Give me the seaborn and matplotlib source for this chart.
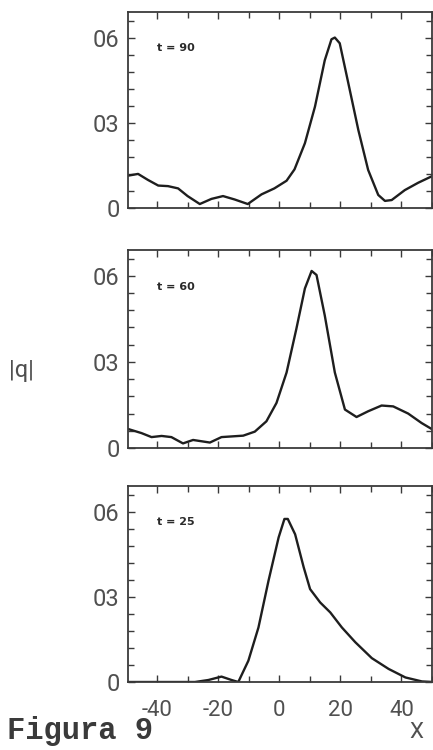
import matplotlib
matplotlib.use("Agg")
import matplotlib.pyplot as plt
import seaborn as sns
import pandas as pd
import numpy as np
from matplotlib.ticker import MultipleLocator, FixedLocator

sns.set_theme(style="white")
plt.rcParams['font.family'] = ['DejaVu Sans']

# ---- data ----
x_t90 = [-49.4, -46.2, -43.0, -39.6, -36.4, -33.1, -30.0, -26.0, -22.2, -18.4, -14.6, -10.3,
         -5.8, -1.6, 2.4, 5.0, 8.4, 11.7, 14.9, 17.1, 18.2, 19.8, 22.6, 25.9, 29.1, 32.4,
         34.6, 36.8, 41.1, 45.5, 50.4]
q_t90 = [0.114, 0.120, 0.099, 0.079, 0.077, 0.069, 0.042, 0.014, 0.032, 0.042, 0.030, 0.014,
         0.048, 0.069, 0.096, 0.136, 0.228, 0.357, 0.520, 0.594, 0.600, 0.580, 0.440, 0.274,
         0.134, 0.046, 0.025, 0.028, 0.063, 0.089, 0.114]

x_t60 = [-49.4, -45.1, -41.8, -38.5, -35.3, -31.5, -28.2, -22.7, -18.9, -11.8, -8.0, -4.2,
         -0.9, 2.4, 5.6, 8.4, 10.6, 12.2, 14.9, 18.2, 21.5, 25.3, 29.1, 33.5, 37.3, 42.2,
         46.6, 50.4]
q_t60 = [0.066, 0.052, 0.038, 0.042, 0.038, 0.016, 0.028, 0.019, 0.038, 0.043, 0.057, 0.093,
         0.157, 0.263, 0.415, 0.556, 0.617, 0.603, 0.462, 0.263, 0.134, 0.108, 0.128, 0.148,
         0.145, 0.120, 0.087, 0.063]

x_t25 = [-49.4, -27.6, -23.2, -18.9, -15.6, -13.4, -10.1, -6.8, -3.5, -0.2, 1.7, 2.8, 5.2,
         8.0, 10.1, 13.4, 16.7, 20.5, 24.9, 30.3, 35.8, 41.3, 46.7, 50.4]
q_t25 = [0.0, 0.0, 0.007, 0.019, 0.007, 0.0, 0.075, 0.192, 0.357, 0.509, 0.574, 0.574, 0.520,
         0.404, 0.327, 0.280, 0.245, 0.192, 0.140, 0.084, 0.046, 0.016, 0.002, 0.0]

panel_labels = ["t = 90", "t = 60", "t = 25"]
ytick_vals = [0.0, 0.3, 0.6]
ytick_text = ["0", "03", "06"]
xtick_vals = [-40, -20, 0, 20, 40]
xtick_text = ["-40", "-20", "0", "20", "40"]

series = [(x_t90, q_t90), (x_t60, q_t60), (x_t25, q_t25)]

W, H = 433, 750
fig = plt.figure(figsize=(W / 100, H / 100), dpi=100)
fig.patch.set_facecolor("white")

panels_px = [(12, 208), (250, 448), (486, 682)]
left_px, right_px = 128, 432

frame_col = "#3a3a3a"
label_col = "#505050"
tick_font = dict(family=["Roboto", "DejaVu Sans"], weight="normal")

for i, ((top, bot), (xs, qs), lab) in enumerate(zip(panels_px, series, panel_labels)):
    ax = fig.add_axes([left_px / W, 1 - bot / H, (right_px - left_px) / W, (bot - top) / H])
    df = pd.DataFrame({"x": xs, "q": qs})
    sns.lineplot(data=df, x="x", y="q", ax=ax, color="#1e1e1e", linewidth=1.7)
    ax.set_xlim(-49.5, 50)
    ax.set_ylim(0, 0.69)
    ax.set_xlabel("")
    ax.set_ylabel("")
    for s in ax.spines.values():
        s.set_color(frame_col)
        s.set_linewidth(1.3)
    ax.xaxis.set_major_locator(FixedLocator(xtick_vals))
    ax.xaxis.set_minor_locator(MultipleLocator(10))
    ax.yaxis.set_major_locator(FixedLocator(ytick_vals))
    ax.yaxis.set_minor_locator(MultipleLocator(0.06))
    ax.tick_params(which="both", direction="in", top=True, right=True, bottom=True, left=True,
                   color=frame_col, width=1.0)
    ax.tick_params(which="major", length=5)
    ax.tick_params(which="minor", length=4)
    ax.set_yticklabels(ytick_text, fontsize=17, color=label_col, **tick_font)
    ax.tick_params(axis="y", pad=6)
    if i == 2:
        ax.set_xticklabels(xtick_text, fontsize=16, color=label_col, **tick_font)
        ax.tick_params(axis="x", pad=13)
    else:
        ax.set_xticklabels([])
    ax.text(0.095, 0.815, lab, transform=ax.transAxes, fontsize=8, fontweight="bold",
            color="#2a2a2a", ha="left", va="center")

fig.text(21 / W, 1 - 370 / H, "|q|", fontsize=17, color=label_col, ha="center", va="center",
         **tick_font)
fig.text(7 / W, 1 - 739 / H, "Figura 9", fontsize=22, fontweight="bold",
         family=["Liberation Mono", "DejaVu Sans Mono"], color="#3a3a3a", ha="left",
         va="baseline")
fig.text(416 / W, 1 - 733 / H, "X", fontsize=16, color=label_col, ha="center", va="center",
         **tick_font)

fig.savefig("out.png", dpi=100, facecolor="white")
